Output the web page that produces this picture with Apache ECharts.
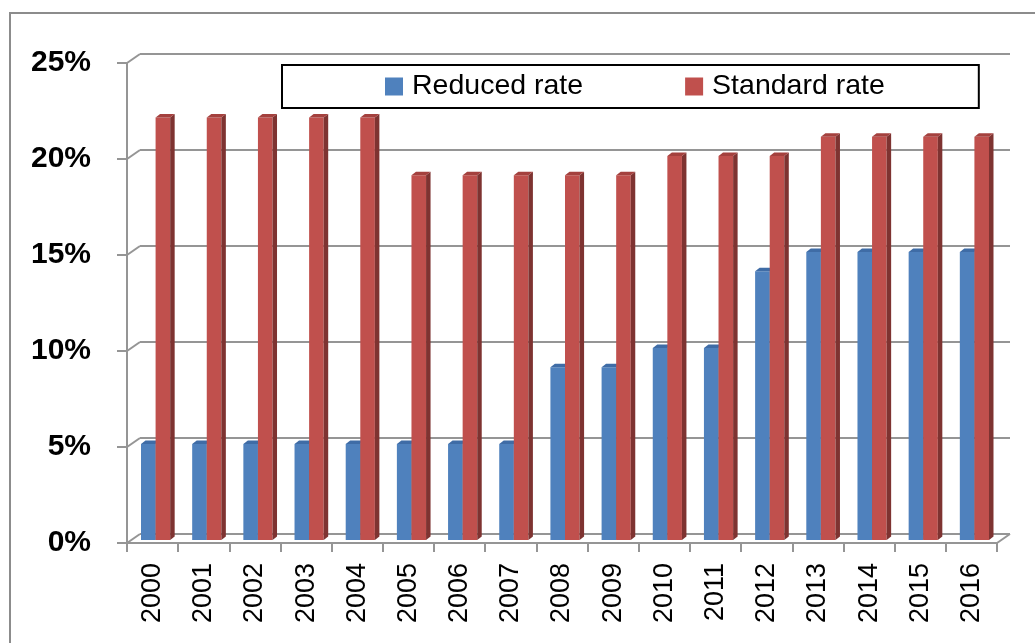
<!DOCTYPE html>
<html>
<head>
<meta charset="utf-8">
<title>Reduced and standard rate, 2000–2016</title>
<script src="https://cdn.jsdelivr.net/npm/echarts@6/dist/echarts.min.js"></script>
<style>
  html, body { margin: 0; padding: 0; background: #fff; }
  #chart { width: 1035px; height: 643px; }
</style>
</head>
<body>
<div id="chart"></div>
<script>
// Years on the category axis
const years = ['2000','2001','2002','2003','2004','2005','2006','2007','2008',
               '2009','2010','2011','2012','2013','2014','2015','2016'];
// Rates in percent
const reducedRate  = [5, 5, 5, 5, 5, 5, 5, 5, 9, 9, 10, 10, 14, 15, 15, 15, 15];
const standardRate = [22, 22, 22, 22, 22, 19, 19, 19, 19, 19, 20, 20, 20, 21, 21, 21, 21];
// Value-axis ticks (percent)
const yTicks = [0, 5, 10, 15, 20, 25];

const seriesNames = ['Reduced rate', 'Standard rate'];

// Pseudo-3D geometry: back wall offset and bar depth
const WALL_DX = 13, WALL_DY = -9;
const BAR_DX = 3, BAR_DY = -3;
const DEPTH_DX = 4.5, DEPTH_DY = -3.5;

const palette = [
  { front: '#4F81BD', side: '#385D8A', top: '#3F6CA6' },
  { front: '#C0504D', side: '#7E3331', top: '#A4413E' }
];

function barRenderer(seriesIdx) {
  return function (params, api) {
    const i = api.value(0);
    const v = api.value(1);
    const base = api.coord([i, 0]);
    const top = api.coord([i, v]);
    const band = api.size([1, 0])[0];
    const w = band * 0.285;
    const cx = base[0] + BAR_DX;
    const x0 = seriesIdx === 0 ? cx - w : cx;
    const x1 = x0 + w;
    const yb = base[1] + BAR_DY;
    const yt = top[1] + BAR_DY;
    const c = palette[seriesIdx];
    return {
      type: 'group',
      children: [
        { type: 'rect', shape: { x: x0, y: yt, width: w, height: yb - yt },
          style: { fill: c.front } },
        { type: 'polygon', shape: { points: [[x1, yt], [x1 + DEPTH_DX, yt + DEPTH_DY],
            [x1 + DEPTH_DX, yb + DEPTH_DY], [x1, yb]] },
          style: { fill: c.side } },
        { type: 'polygon', shape: { points: [[x0, yt], [x0 + DEPTH_DX, yt + DEPTH_DY],
            [x1 + DEPTH_DX, yt + DEPTH_DY], [x1, yt]] },
          style: { fill: c.top } }
      ]
    };
  };
}

// Diagonal connectors between the front axis and the back wall
function connectorRenderer(params, api) {
  const v = api.value(1);
  const p = api.coord([0, v]);
  const cs = params.coordSys;
  const lineStyle = { stroke: '#959595', lineWidth: 2 };
  const children = [
    { type: 'line', shape: { x1: cs.x, y1: p[1], x2: cs.x + WALL_DX, y2: p[1] + WALL_DY },
      style: lineStyle }
  ];
  if (v === 0) {
    const xr = cs.x + cs.width;
    children.push({ type: 'line',
      shape: { x1: xr, y1: p[1], x2: xr + WALL_DX, y2: p[1] + WALL_DY }, style: lineStyle });
  }
  return { type: 'group', children: children };
}

const axisGray = '#959595';
const chart = echarts.init(document.getElementById('chart'));

chart.setOption({
  animation: false,
  backgroundColor: '#fff',
  graphic: [
    { type: 'rect', shape: { x: 10, y: 13, width: 1100, height: 700 },
      style: { fill: 'none', stroke: '#8c8c8c', lineWidth: 2 }, z: -10 }
  ],
  legend: {
    data: seriesNames,
    left: 282, top: 65,
    orient: 'horizontal',
    itemWidth: 18, itemHeight: 18,
    itemGap: 102,
    padding: [7, 94, 7, 103],
    borderColor: '#000', borderWidth: 2,
    icon: 'rect',
    textStyle: { fontFamily: 'Liberation Sans', fontSize: 28.5, lineHeight: 20, color: '#000',
                 padding: [0, 0, 0, 4] }
  },
  grid: [
    { left: 127, right: 38, top: 63, bottom: 100 },
    { left: 127 + WALL_DX, right: 38 - WALL_DX, top: 63 + WALL_DY, bottom: 100 - WALL_DY }
  ],
  xAxis: [
    {
      type: 'category', gridIndex: 0, data: years, boundaryGap: true,
      axisLine: { lineStyle: { color: axisGray, width: 2 } },
      axisTick: { show: true, interval: 0, length: 9, lineStyle: { color: axisGray, width: 2 } },
      axisLabel: { interval: 0, rotate: 90, margin: 20, color: '#000',
                   fontFamily: 'Liberation Sans', fontSize: 27 },
      splitLine: { show: false }
    },
    {
      type: 'category', gridIndex: 1, data: years, show: false
    }
  ],
  yAxis: [
    {
      type: 'value', gridIndex: 0, min: 0, max: 25, interval: 5,
      axisLine: { show: true, lineStyle: { color: axisGray, width: 2 } },
      axisTick: { show: true, length: 10, lineStyle: { color: axisGray, width: 2 } },
      axisLabel: { formatter: '{value}%', margin: 36, color: '#000',
                   fontFamily: 'Liberation Sans', fontWeight: 'bold', fontSize: 30 },
      splitLine: { show: false }
    },
    {
      type: 'value', gridIndex: 1, min: 0, max: 25, interval: 5,
      axisLine: { show: false }, axisTick: { show: false }, axisLabel: { show: false },
      splitLine: { show: true, lineStyle: { color: axisGray, width: 2 } }
    }
  ],
  series: [
    {
      name: 'wall',
      type: 'custom', xAxisIndex: 0, yAxisIndex: 0,
      renderItem: connectorRenderer,
      data: yTicks.map(t => [0, t]),
      encode: { x: 0, y: 1 },
      silent: true, z: 1
    },
    {
      name: seriesNames[0],
      type: 'custom', xAxisIndex: 0, yAxisIndex: 0,
      itemStyle: { color: palette[0].front },
      renderItem: barRenderer(0),
      data: reducedRate.map((v, i) => [i, v]),
      encode: { x: 0, y: 1 }, z: 3
    },
    {
      name: seriesNames[1],
      type: 'custom', xAxisIndex: 0, yAxisIndex: 0,
      itemStyle: { color: palette[1].front },
      renderItem: barRenderer(1),
      data: standardRate.map((v, i) => [i, v]),
      encode: { x: 0, y: 1 }, z: 4
    }
  ]
});
</script>
</body>
</html>
